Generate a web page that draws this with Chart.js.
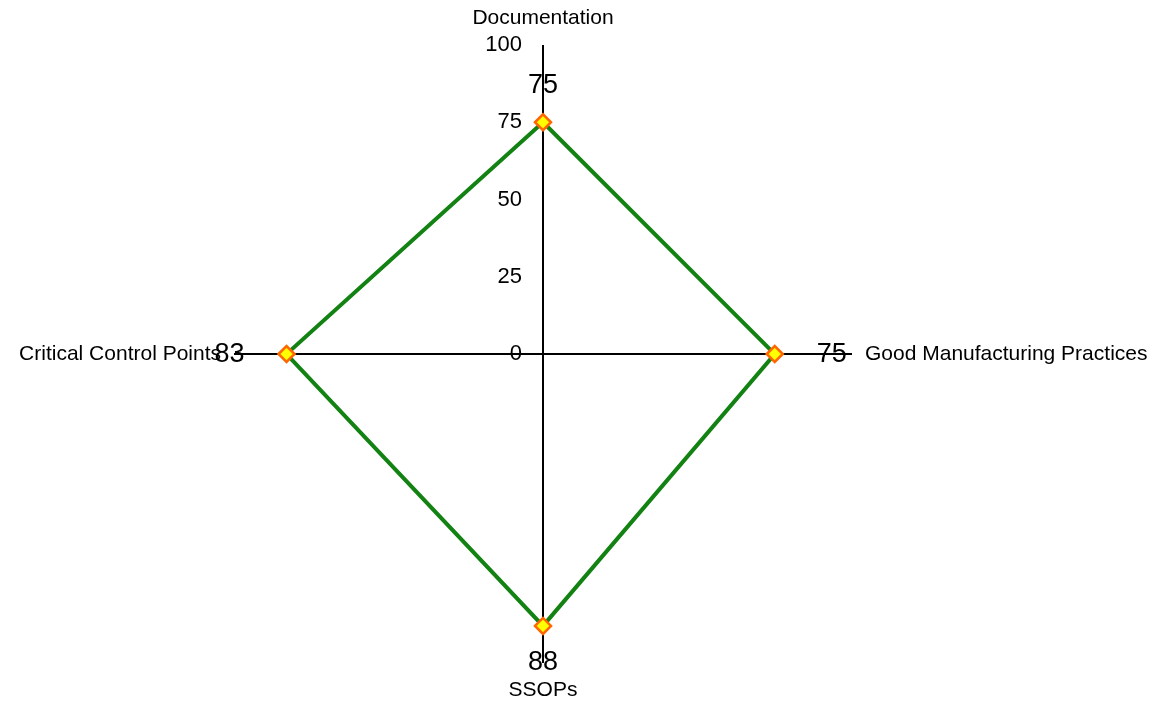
<!DOCTYPE html>
<html>
<head>
<meta charset="utf-8">
<script src="https://cdn.jsdelivr.net/npm/chart.js@4"></script>
<style>
html,body{margin:0;padding:0;background:#fff;}
#wrap{width:1163px;height:704px;position:relative;}
</style>
</head>
<body>
<div id="wrap"><canvas id="c" width="1163" height="704"></canvas></div>
<script>
const categories = ["Documentation", "Good Manufacturing Practices", "SSOPs", "Critical Control Points"];
const scores = [75, 75, 88, 83];
const tickValues = [0, 25, 50, 75, 100];

const FONT = '"Liberation Sans", Arial, sans-serif';

const overlay = {
  id: 'overlay',
  afterDraw(chart) {
    const ctx = chart.ctx;
    const r = chart.scales.r;
    ctx.save();
    ctx.fillStyle = '#000';
    // tick labels left of vertical axis
    ctx.font = '22px ' + FONT;
    ctx.textAlign = 'right';
    ctx.textBaseline = 'middle';
    tickValues.forEach(v => {
      const d = r.getDistanceFromCenterForValue(v);
      ctx.fillText(String(v), r.xCenter - 21, r.yCenter - d);
    });
    // category labels
    ctx.font = '21px ' + FONT;
    categories.forEach((name, i) => {
      const a = r.getIndexAngle(i) - Math.PI / 2;
      const c = Math.cos(a);
      let p;
      if (Math.abs(c) < 0.5) {
        p = r.getPointPosition(i, 336);
        ctx.textAlign = 'center';
      } else {
        p = r.getPointPosition(i, 322);
        ctx.textAlign = c > 0 ? 'left' : 'right';
      }
      ctx.textBaseline = 'middle';
      ctx.fillText(name, p.x, p.y);
    });
    // value labels
    ctx.font = '27px ' + FONT;
    const meta = chart.getDatasetMeta(0);
    meta.data.forEach((pt, i) => {
      const a = r.getIndexAngle(i) - Math.PI / 2;
      const c = Math.cos(a), s = Math.sin(a);
      let x, y;
      if (Math.abs(c) < 0.5) {
        x = pt.x + c * 37; y = pt.y + s * 37;
        ctx.textAlign = 'center';
      } else {
        x = pt.x + c * 42; y = pt.y + s * 42 + 1;
        ctx.textAlign = c > 0 ? 'left' : 'right';
      }
      ctx.textBaseline = 'middle';
      ctx.fillText(String(scores[i]), x, y);
    });
    ctx.restore();
  }
};

new Chart(document.getElementById('c'), {
  type: 'radar',
  data: {
    labels: categories,
    datasets: [{
      data: scores,
      borderColor: '#128212',
      borderWidth: 4,
      fill: false,
      backgroundColor: 'rgba(0,0,0,0)',
      pointStyle: 'rectRot',
      pointRadius: 8,
      pointHoverRadius: 8,
      pointBackgroundColor: '#ffff00',
      pointBorderColor: '#ff6600',
      pointBorderWidth: 2.5,
      tension: 0
    }]
  },
  options: {
    responsive: false,
    animation: false,
    layout: { padding: { top: 45, bottom: 41, left: 234, right: 311 } },
    plugins: { legend: { display: false }, tooltip: { enabled: false } },
    scales: {
      r: {
        min: 0,
        max: 100,
        grid: { display: false },
        angleLines: { display: true, color: '#000', lineWidth: 2 },
        ticks: { display: false, stepSize: 25, showLabelBackdrop: false },
        pointLabels: { display: false }
      }
    }
  },
  plugins: [overlay]
});
</script>
</body>
</html>
